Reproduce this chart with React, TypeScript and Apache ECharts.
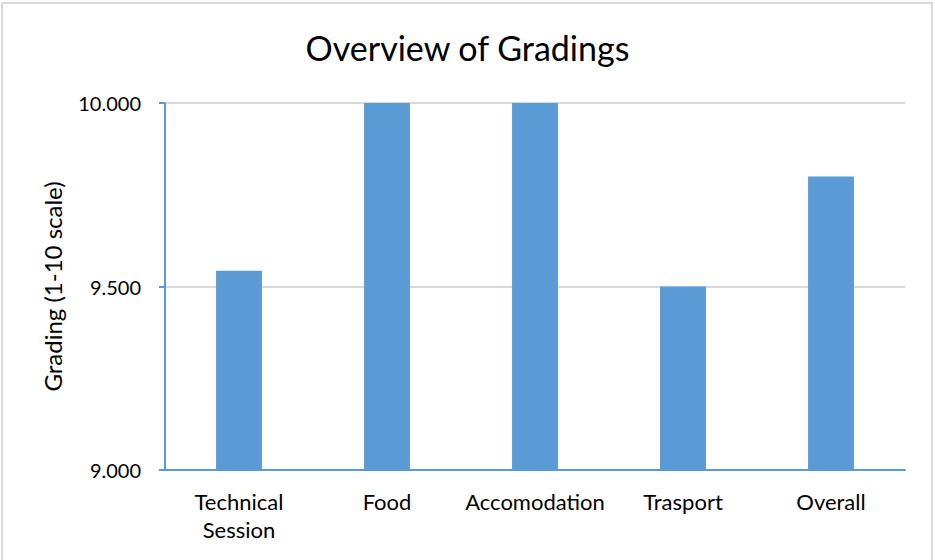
import React, { useEffect, useRef } from "react";
import * as echarts from "echarts";

const categories = ["Technical\nSession", "Food", "Accomodation", "Trasport", "Overall"];
const gradings = [9.543, 10.0, 10.0, 9.5, 9.8];
const yTicks = { min: 9, max: 10, interval: 0.5 };

export default function App() {
  const ref = useRef<HTMLDivElement>(null);
  useEffect(() => {
    document.body.style.margin = "0";
    const chart = echarts.init(ref.current!, undefined, { renderer: "svg" });
    const font = "Lato, 'Open Sans', sans-serif";
    chart.setOption({
      animation: false,
      backgroundColor: "#ffffff",
      title: {
        text: "Overview of Gradings",
        left: "center",
        top: 25,
        textStyle: { fontFamily: font, fontSize: 34, fontWeight: "normal", color: "#000" },
      },
      graphic: [
        {
          type: "rect",
          shape: { x: 2, y: 3, width: 930, height: 560 },
          style: { fill: "none", stroke: "#D9D9D9", lineWidth: 2 },
          silent: true,
        },
      ],
      grid: { left: 165, right: 30, top: 103, bottom: 90 },
      xAxis: {
        type: "category",
        data: categories,
        axisLine: { lineStyle: { color: "#5B9BD5", width: 2 } },
        axisTick: { show: false },
        axisLabel: {
          color: "#000",
          fontFamily: font,
          fontSize: 22,
          margin: 17,
          lineHeight: 28,
          interval: 0,
        },
      },
      yAxis: {
        type: "value",
        min: yTicks.min,
        max: yTicks.max,
        interval: yTicks.interval,
        name: "Grading (1-10 scale)",
        nameLocation: "middle",
        nameGap: 101,
        nameTextStyle: { fontFamily: font, fontSize: 24, color: "#000" },
        axisLine: { show: true, lineStyle: { color: "#5B9BD5", width: 2 } },
        axisTick: { show: true, length: 6, lineStyle: { color: "#5B9BD5", width: 2 } },
        axisLabel: {
          color: "#000",
          fontFamily: font,
          fontSize: 20,
          margin: 24,
          formatter: (v: number) => v.toFixed(3),
        },
        splitLine: { lineStyle: { color: "#D9D9D9", width: 2 } },
      },
      series: [
        {
          type: "bar",
          data: gradings,
          barWidth: "31%",
          itemStyle: { color: "#5B9BD5" },
        },
      ],
    });
    return () => chart.dispose();
  }, []);
  return <div ref={ref} style={{ width: 935, height: 560 }} />;
}
